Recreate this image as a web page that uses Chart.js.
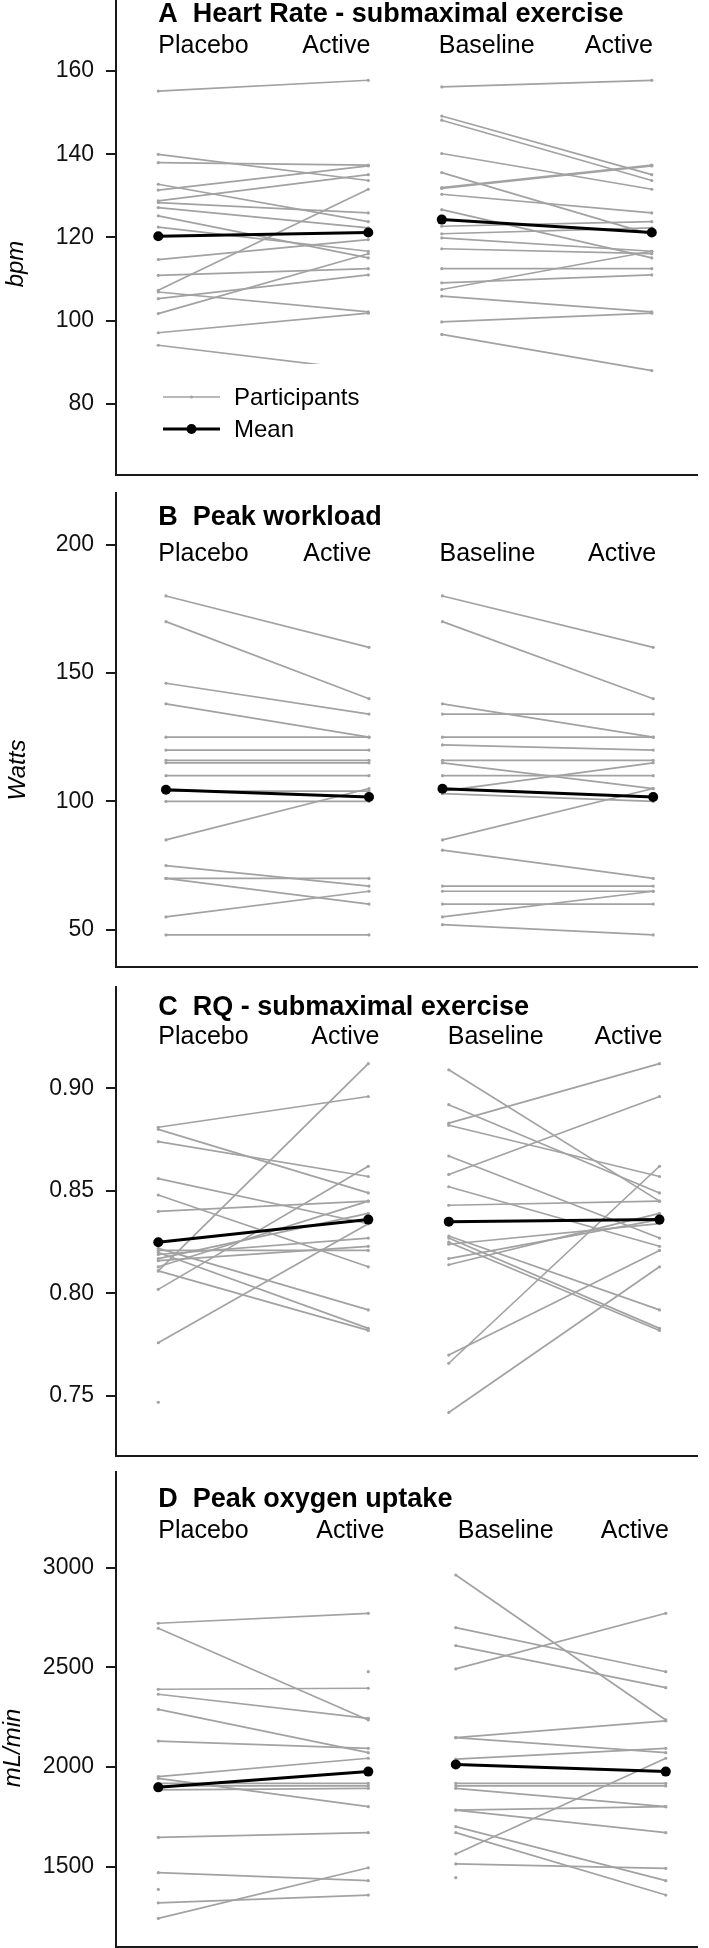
<!DOCTYPE html>
<html>
<head>
<meta charset="utf-8">
<title>Participants and mean, four panels</title>
<script src="https://cdn.jsdelivr.net/npm/chart.js@4.4.0/dist/chart.umd.min.js"></script>
<style>
    html, body { margin: 0; padding: 0; background: #fff; }
    .panel { position: absolute; left: 0; width: 709px; }
    canvas { display: block; }
</style>
</head>
<body>
<div class="panel" style="top:0px"><canvas id="hrChart" width="709" height="478"></canvas></div>
<div class="panel" style="top:478px"><canvas id="workloadChart" width="709" height="490"></canvas></div>
<div class="panel" style="top:968px"><canvas id="rqChart" width="709" height="490"></canvas></div>
<div class="panel" style="top:1458px"><canvas id="vo2Chart" width="709" height="490"></canvas></div>

<script>
// ---- Data (one entry per participant line) ----

// A: heart rate, submaximal exercise (bpm)
const hrPlacebo = [155.2, 140.0, 138.0, 132.8, 131.4, 128.8, 128.4, 127.2, 125.2, 122.5, 114.7, 110.9, 107.3, 106.9, 105.3, 101.7, 97.1, 94.1];
const hrActiveVsPlacebo = [157.8, 133.7, 137.4, 123.8, 137.2, 135.1, 125.9, 122.3, 115.1, 116.7, 119.5, 112.5, 131.6, 102.1, 111.0, 116.1, 101.8, 88.0];
const hrBaseline = [156.2, 149.2, 148.2, 140.2, 135.6, 132.0, 131.8, 130.4, 126.7, 122.7, 120.9, 119.9, 117.3, 112.5, 109.1, 107.5, 105.9, 99.7, 96.7];
const hrActiveVsBaseline = [157.8, 135.1, 133.7, 131.6, 120.7, 137.4, 137.2, 125.9, 115.1, 123.8, 122.3, 116.7, 116.1, 112.5, 111.0, 116.7, 102.1, 101.8, 88.0];
const hrMean = [120.3, 121.2, 124.3, 121.2];
const hrTicks = [80, 100, 120, 140, 160];

// B: peak workload (Watts)
const wlPlacebo = [180, 170, 146, 138, 125, 120, 116, 115, 110, 104, 100, 85, 75, 70, 70, 55, 48];
const wlActiveVsPlacebo = [160, 140, 134, 125, 125, 120, 116, 115, 110, 104, 100, 105, 67, 70, 60, 65, 48];
const wlBaseline = [180, 170, 138, 134, 125, 122, 116, 115, 110, 104, 103, 85, 81, 67, 65, 60, 55, 52];
const wlActiveVsBaseline = [160, 140, 125, 134, 125, 120, 116, 105, 110, 115, 100, 105, 70, 67, 65, 60, 65, 48];
const wlMean = [104.5, 101.7, 104.9, 101.7];
const wlTicks = [50, 100, 150, 200];

// C: RQ, submaximal exercise
const rqPlacebo = [0.881, 0.880, 0.874, 0.856, 0.848, 0.840, 0.811, 0.802, 0.776, 0.822, 0.821, 0.820, 0.819, 0.817, 0.816, 0.813, 0.811, 0.747];
const rqActiveVsPlacebo = [0.896, 0.849, 0.857, 0.834, 0.813, 0.845, 0.912, 0.862, 0.834, 0.792, 0.821, 0.783, 0.827, 0.839, 0.823, 0.845, 0.782, null];
const rqBaseline = [0.909, 0.892, 0.883, 0.882, 0.867, 0.858, 0.852, 0.843, 0.828, 0.827, 0.825, 0.824, 0.817, 0.814, 0.770, 0.766, 0.742];
const rqActiveVsBaseline = [0.845, 0.849, 0.912, 0.857, 0.827, 0.896, 0.823, 0.845, 0.792, 0.783, 0.782, 0.834, 0.836, 0.839, 0.821, 0.862, 0.813];
const rqMean = [0.825, 0.836, 0.835, 0.836];
const rqTicks = [0.75, 0.80, 0.85, 0.90];

// D: peak oxygen uptake (mL/min)
const voPlacebo = [2721, 2696, 2390, 2365, 2289, 2130, 1952, 1943, 1918, 1905, 1885, 1647, 1470, 1386, 1319, 1241, null];
const voActiveVsPlacebo = [2771, 2236, 2395, 2244, 2072, 2094, 2044, 1801, 1918, 1905, 1893, 1671, 1430, null, 1358, 1495, 2478];
const voBaseline = [2963, 2699, 2609, 2492, 2147, 2147, 2040, 1918, 1905, 1893, 1784, 1784, 1701, 1671, 1564, 1514, 1445];
const voActiveVsBaseline = [2236, 2478, 2398, 2771, 2231, 2072, 2094, 1918, 1905, 1801, 1801, 1671, 1430, 1358, 2044, 1492, null];
const voMean = [1898, 1977, 2013, 1977];
const voTicks = [1500, 2000, 2500, 3000];

const conditionLabels = ['Placebo', 'Active', 'Baseline', 'Active'];

// ---- Styling ----
const FONT = "'Liberation Sans', Arial, Helvetica, sans-serif";
const GREY = '#a2a2a2';
const AXIS = '#1a1a1a';

Chart.defaults.font.family = FONT;
Chart.defaults.color = '#111';

// ---- Panel layout ----
const panels = [
    {
        canvas: 'hrChart', title: 'A  Heart Rate - submaximal exercise', yTitle: 'bpm',
        placebo: hrPlacebo, activeP: hrActiveVsPlacebo, baseline: hrBaseline, activeB: hrActiveVsBaseline,
        mean: hrMean, ticks: hrTicks, decimals: 0,
        yMin: 62.9, yMax: 177.1, chartTop: 0, chartBottom: 475,
        slots: [0, 3, 4.05, 7.05], labelNudge: [0, 2, -3, 1],
        titleY: 22, labelY: 53, yTitleX: 23, yTitleY: 264, legend: true
    },
    {
        canvas: 'workloadChart', title: 'B  Peak workload', yTitle: 'Watts',
        placebo: wlPlacebo, activeP: wlActiveVsPlacebo, baseline: wlBaseline, activeB: wlActiveVsBaseline,
        mean: wlMean, ticks: wlTicks, decimals: 0,
        yMin: 35.5, yMax: 220.1, chartTop: 15, chartBottom: 489,
        slots: [0.11, 3.01, 4.06, 7.07], labelNudge: [0, 3, -3, 3],
        titleY: 47, labelY: 83, yTitleX: 25, yTitleY: 292, legend: false
    },
    {
        canvas: 'rqChart', title: 'C  RQ - submaximal exercise', yTitle: '',
        placebo: rqPlacebo, activeP: rqActiveVsPlacebo, baseline: rqBaseline, activeB: rqActiveVsBaseline,
        mean: rqMean, ticks: rqTicks, decimals: 2,
        yMin: 0.7208, yMax: 0.9495, chartTop: 18.7, chartBottom: 488,
        slots: [0, 3, 4.15, 7.16], labelNudge: [0, 11, -1, 3],
        titleY: 47, labelY: 76, yTitleX: 0, yTitleY: 0, legend: false
    },
    {
        canvas: 'vo2Chart', title: 'D  Peak oxygen uptake', yTitle: 'mL/min',
        placebo: voPlacebo, activeP: voActiveVsPlacebo, baseline: voBaseline, activeB: voActiveVsBaseline,
        mean: voMean, ticks: voTicks, decimals: 0,
        yMin: 1099, yMax: 3481, chartTop: 13.7, chartBottom: 488.7,
        slots: [0, 3, 4.25, 7.25], labelNudge: [0, 16, 2, 3],
        titleY: 49, labelY: 80, yTitleX: 20, yTitleY: 290, legend: false
    }
];

// x axis: left edge at 116px, right edge at 697px, 70px per slot
const X_MIN = -0.604;
const X_MAX = 7.696;

function participantDatasets(first, second, x0, x1) {
    const n = Math.max(first.length, second.length);
    const sets = [];
    for (let i = 0; i < n; i++) {
        sets.push({
            data: [{ x: x0, y: first[i] ?? null }, { x: x1, y: second[i] ?? null }],
            borderColor: GREY,
            backgroundColor: GREY,
            borderWidth: 1.7,
            pointRadius: 1.6,
            pointBorderWidth: 0,
            spanGaps: false
        });
    }
    return sets;
}

function meanDataset(values, x0, x1) {
    return {
        data: [{ x: x0, y: values[0] }, { x: x1, y: values[1] }],
        borderColor: '#000',
        backgroundColor: '#000',
        borderWidth: 3,
        pointRadius: 5,
        pointBorderWidth: 0
    };
}

// no automatic label padding: chart area comes from layout.padding only
function noScalePadding(s) {
    s.paddingTop = 0;
    s.paddingBottom = 0;
    s.paddingLeft = 0;
    s.paddingRight = 0;
}

// Titles, condition labels, axis title and legend drawn on top of the plot
function textPlugin(p) {
    return {
        id: 'panelText',
        afterDraw(chart) {
            const ctx = chart.ctx;
            const xs = chart.scales.x;
            ctx.save();
            ctx.fillStyle = '#000';
            ctx.textBaseline = 'alphabetic';

            // Panel title
            ctx.font = 'bold 27px ' + FONT;
            ctx.textAlign = 'left';
            ctx.fillText(p.title, xs.getPixelForValue(0), p.titleY);

            // Condition labels
            ctx.font = '25px ' + FONT;
            const labelSlots = [0, 3, p.slots[2], p.slots[3]];
            conditionLabels.forEach((label, i) => {
                ctx.textAlign = i % 2 === 0 ? 'left' : 'right';
                ctx.fillText(label, xs.getPixelForValue(labelSlots[i]) + p.labelNudge[i], p.labelY);
            });

            // Rotated y axis title
            if (p.yTitle) {
                ctx.save();
                ctx.translate(p.yTitleX, p.yTitleY);
                ctx.rotate(-Math.PI / 2);
                ctx.font = 'italic 24px ' + FONT;
                ctx.textAlign = 'center';
                ctx.fillText(p.yTitle, 0, 0);
                ctx.restore();
            }

            // Legend box (covers the lines underneath)
            if (p.legend) {
                ctx.fillStyle = '#fff';
                ctx.fillRect(150, 364, 225, 84);

                ctx.strokeStyle = GREY;
                ctx.lineWidth = 1.7;
                ctx.beginPath();
                ctx.moveTo(163, 397);
                ctx.lineTo(220, 397);
                ctx.stroke();
                ctx.fillStyle = GREY;
                ctx.beginPath();
                ctx.arc(191.5, 397, 1.6, 0, Math.PI * 2);
                ctx.fill();

                ctx.strokeStyle = '#000';
                ctx.lineWidth = 3;
                ctx.beginPath();
                ctx.moveTo(163, 429);
                ctx.lineTo(220, 429);
                ctx.stroke();
                ctx.fillStyle = '#000';
                ctx.beginPath();
                ctx.arc(191.5, 429, 5, 0, Math.PI * 2);
                ctx.fill();

                ctx.font = '24px ' + FONT;
                ctx.textAlign = 'left';
                ctx.fillText('Participants', 234, 405);
                ctx.fillText('Mean', 234, 437);
            }
            ctx.restore();
        }
    };
}

panels.forEach(p => {
    const canvas = document.getElementById(p.canvas);
    const [xP, xA, xB, xA2] = p.slots;

    const datasets = [
        meanDataset([p.mean[0], p.mean[1]], xP, xA),
        meanDataset([p.mean[2], p.mean[3]], xB, xA2),
        ...participantDatasets(p.placebo, p.activeP, xP, xA),
        ...participantDatasets(p.baseline, p.activeB, xB, xA2)
    ];

    new Chart(canvas, {
        type: 'line',
        data: { datasets },
        options: {
            responsive: false,
            animation: false,
            events: [],
            layout: {
                autoPadding: false,
                padding: { left: 0, right: 12, top: p.chartTop, bottom: canvas.height - p.chartBottom }
            },
            plugins: {
                legend: { display: false },
                tooltip: { enabled: false }
            },
            scales: {
                x: {
                    type: 'linear',
                    min: X_MIN,
                    max: X_MAX,
                    afterFit: s => { s.height = 0; noScalePadding(s); },
                    ticks: { display: false },
                    grid: { display: false, drawTicks: false },
                    border: { color: AXIS, width: 2 }
                },
                y: {
                    type: 'linear',
                    min: p.yMin,
                    max: p.yMax,
                    afterFit: s => { s.width = 116; noScalePadding(s); },
                    afterBuildTicks: s => { s.ticks = p.ticks.map(v => ({ value: v })); },
                    grid: { drawOnChartArea: false, drawTicks: true, tickLength: 10, color: AXIS, lineWidth: 2 },
                    border: { color: AXIS, width: 2 },
                    ticks: {
                        padding: 12,
                        color: '#111',
                        font: { size: 23 },
                        callback: v => v.toFixed(p.decimals)
                    }
                }
            }
        },
        plugins: [textPlugin(p)]
    });
});
</script>
</body>
</html>
